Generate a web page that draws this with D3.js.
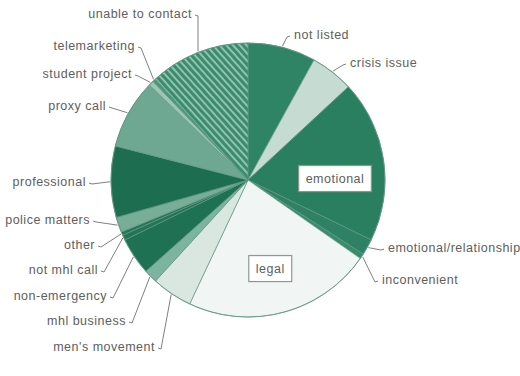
<!DOCTYPE html>
<html>
<head>
<meta charset="utf-8">
<script src="https://cdn.jsdelivr.net/npm/d3@7"></script>
<style>
  html, body { margin: 0; padding: 0; background: #fff; }
  svg { display: block; }
  .lbl { font-family: "Liberation Sans", Arial, sans-serif; font-size: 12.5px; letter-spacing: 0.5px; fill: #5e5e5e; }
</style>
</head>
<body>
<svg id="chart" width="520" height="376"></svg>
<script>
// Reasons for calls, share of all calls (%), clockwise from 12 o'clock
const categories = ["not listed", "crisis issue", "emotional", "emotional/relationship", "inconvenient",
  "legal", "men's movement", "mhl business", "non-emergency", "not mhl call", "other",
  "police matters", "professional", "proxy call", "student project", "telemarketing", "unable to contact"];
const shares = [8.0, 5.1, 19.1, 1.9, 0.6, 22.3, 4.8, 1.6, 4.4, 0.6, 0.4, 1.8, 8.4, 8.2, 0.6, 0.4, 11.8];
// Slices whose name is written in a box inside the pie
const boxedCategories = ["emotional", "legal"];

// Styling
const fills = {
  "not listed": "#2f8466",
  "crisis issue": "#c6dcd2",
  "emotional": "#2b7f61",
  "emotional/relationship": "#2e8164",
  "inconvenient": "#3a8a6c",
  "legal": "#f1f5f3",
  "men's movement": "#d9e7e0",
  "mhl business": "#7db49f",
  "non-emergency": "#1f7153",
  "not mhl call": "#237556",
  "other": "#267757",
  "police matters": "#78ad97",
  "professional": "#1d6e51",
  "proxy call": "#6ea892",
  "student project": "#9cc5b4",
  "telemarketing": "#4b977b",
  "unable to contact": "url(#hatch)"
};
// Outside label placement: [x, y, anchor]
const labelPos = {
  "not listed": [294, 36, "start"],
  "crisis issue": [350, 64, "start"],
  "emotional/relationship": [388, 249, "start"],
  "inconvenient": [382, 281, "start"],
  "men's movement": [155, 348, "end"],
  "mhl business": [126, 322, "end"],
  "non-emergency": [107, 297, "end"],
  "not mhl call": [98, 271, "end"],
  "other": [95, 246, "end"],
  "police matters": [90, 221, "end"],
  "professional": [86, 183, "end"],
  "proxy call": [106, 107, "end"],
  "student project": [132, 75, "end"],
  "telemarketing": [135, 47, "end"],
  "unable to contact": [192, 15, "end"]
};
// Inside boxed labels: [angle in degrees, radius]
const boxPos = { "emotional": [89.5, 87], "legal": [166, 92] };

const cx = 248, cy = 180, R = 137;
const svg = d3.select("#chart");

// Diagonal stripes for the "unable to contact" slice
const defs = svg.append("defs");
const pat = defs.append("pattern")
  .attr("id", "hatch").attr("patternUnits", "userSpaceOnUse")
  .attr("width", 8).attr("height", 5)
  .attr("patternTransform", "rotate(48)");
pat.append("rect").attr("width", 8).attr("height", 5).attr("fill", "#3a8c6e");
pat.append("rect").attr("y", 0).attr("width", 8).attr("height", 1.9).attr("fill", "#96c4b0");

const data = categories.map((c, i) => ({ name: c, value: shares[i] }));
const pie = d3.pie().sort(null).value(d => d.value);
const arcs = pie(data);
const arc = d3.arc().innerRadius(0).outerRadius(R);

const g = svg.append("g").attr("transform", `translate(${cx},${cy})`);
g.selectAll("path.slice")
  .data(arcs)
  .join("path")
  .attr("class", "slice")
  .attr("d", arc)
  .attr("fill", d => fills[d.data.name])
  .attr("stroke", "#5f9683")
  .attr("stroke-width", 0.7);

// Outline of the whole pie
g.append("circle").attr("r", R).attr("fill", "none").attr("stroke", "#5f9683").attr("stroke-width", 0.8);

// Point on the rim at a slice's middle angle
function rimPoint(d, r) {
  const a = (d.startAngle + d.endAngle) / 2;
  return [cx + r * Math.sin(a), cy - r * Math.cos(a)];
}

// Outside labels with leader lines
const outer = arcs.filter(d => labelPos[d.data.name]);
const lg = svg.append("g");
outer.forEach(d => {
  const [x, y, anchor] = labelPos[d.data.name];
  lg.append("text")
    .attr("class", "lbl")
    .attr("x", x).attr("y", y)
    .attr("text-anchor", anchor)
    .attr("dominant-baseline", "middle")
    .text(d.data.name);
  const sx = anchor === "end" ? x + 3 : x - 4;
  const hook = anchor === "end" ? sx + 3 : sx - 3;
  const [px, py] = rimPoint(d, R + 1);
  lg.append("path")
    .attr("d", `M${sx},${y} L${hook},${y + 1} L${px},${py}`)
    .attr("fill", "none")
    .attr("stroke", "#808080")
    .attr("stroke-width", 1);
});

// Boxed labels inside the pie
arcs.filter(d => boxedCategories.includes(d.data.name)).forEach(d => {
  const [deg, r] = boxPos[d.data.name];
  const a = deg * Math.PI / 180;
  const x = cx + r * Math.sin(a), y = cy - r * Math.cos(a);
  const t = svg.append("text")
    .attr("class", "lbl")
    .attr("x", x).attr("y", y)
    .attr("text-anchor", "middle")
    .attr("dominant-baseline", "middle")
    .text(d.data.name);
  const bb = t.node().getBBox();
  svg.insert("rect", () => t.node())
    .attr("x", bb.x - 7).attr("y", bb.y - 6)
    .attr("width", bb.width + 14).attr("height", bb.height + 12)
    .attr("fill", "#ffffff")
    .attr("stroke", "#8a9a93")
    .attr("stroke-width", 1.2);
});
</script>
</body>
</html>
